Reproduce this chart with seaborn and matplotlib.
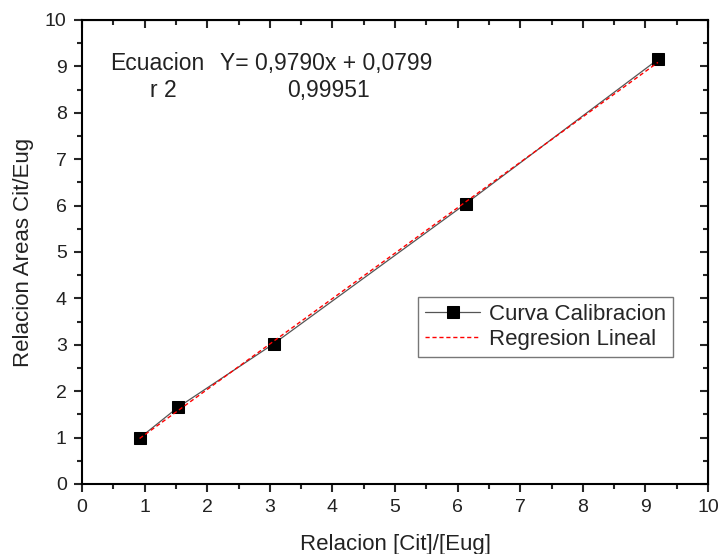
import matplotlib
matplotlib.use("Agg")
import matplotlib.pyplot as plt
import seaborn as sns
import numpy as np
import pandas as pd
from matplotlib.ticker import MultipleLocator

sns.set_style("ticks")
plt.rcParams['font.family'] = ['Liberation Sans', 'DejaVu Sans']

x_conc = [0.92, 1.53, 3.06, 6.13, 9.20]
y_area = [0.99, 1.65, 3.02, 6.04, 9.15]
slope = 0.9790
intercept = 0.0799

df = pd.DataFrame({"x": x_conc, "y": y_area})
xr = np.array([min(x_conc), max(x_conc)])
reg = pd.DataFrame({"x": xr, "y": slope * xr + intercept})

fig = plt.figure(figsize=(7.18, 5.54), dpi=100)
ax = fig.add_axes([82/718, 70/554, 626/718, 464/554])

sns.lineplot(data=df, x="x", y="y", ax=ax, color="#555555", linewidth=0.9,
             marker="s", markersize=8, markerfacecolor="black", markeredgecolor="black",
             label="Curva Calibracion")
sns.lineplot(data=reg, x="x", y="y", ax=ax, color="red", linewidth=1.0,
             linestyle=(0, (3, 2)), label="Regresion Lineal")

ax.set_xlim(0, 10)
ax.set_ylim(0, 10)
ax.xaxis.set_major_locator(MultipleLocator(1))
ax.yaxis.set_major_locator(MultipleLocator(1))
ax.xaxis.set_minor_locator(MultipleLocator(0.5))
ax.yaxis.set_minor_locator(MultipleLocator(0.5))
for s in ax.spines.values():
    s.set_linewidth(1.5)
    s.set_color("black")
ax.tick_params(axis="both", which="major", direction="out", length=6, width=1.5,
               labelsize=14, labelcolor="#222222", top=False, right=False, pad=5)
ax.tick_params(axis="both", which="minor", direction="out", length=3.5, width=1.5,
               top=False, right=False)
# inward ticks on top and right
ax2 = ax.secondary_xaxis("top")
ax2.xaxis.set_major_locator(MultipleLocator(1))
ax2.xaxis.set_minor_locator(MultipleLocator(0.5))
ax2.tick_params(which="major", direction="in", length=6, width=1.5, labeltop=False)
ax2.tick_params(which="minor", direction="in", length=3.5, width=1.5)
ay2 = ax.secondary_yaxis("right")
ay2.yaxis.set_major_locator(MultipleLocator(1))
ay2.yaxis.set_minor_locator(MultipleLocator(0.5))
ay2.tick_params(which="major", direction="in", length=6, width=1.5, labelright=False)
ay2.tick_params(which="minor", direction="in", length=3.5, width=1.5)

ax.set_xlabel("Relacion [Cit]/[Eug]", fontsize=16, color="#222222", labelpad=13)
ax.set_ylabel("Relacion Areas Cit/Eug", fontsize=16, color="#222222", labelpad=8)

ax.text(0.45, 9.07, "Ecuacion", fontsize=16.5, color="#222222", va="center")
ax.text(1.09, 8.47, "r 2", fontsize=16.5, color="#222222", va="center")
ax.text(2.2, 9.07, "Y= 0,9790x + 0,0799", fontsize=16.5, color="#222222", va="center")
ax.text(3.27, 8.47, "0,99951", fontsize=16.5, color="#222222", va="center")

leg = ax.legend(loc="upper left", bbox_to_anchor=(0.537, 0.403), fontsize=16,
                frameon=True, fancybox=False, handlelength=2.5, borderpad=0.3,
                labelspacing=0.2, handletextpad=0.4, borderaxespad=0)
leg.get_frame().set_edgecolor("#555555")
leg.get_frame().set_linewidth(1.0)

fig.savefig("out.png", dpi=100)
